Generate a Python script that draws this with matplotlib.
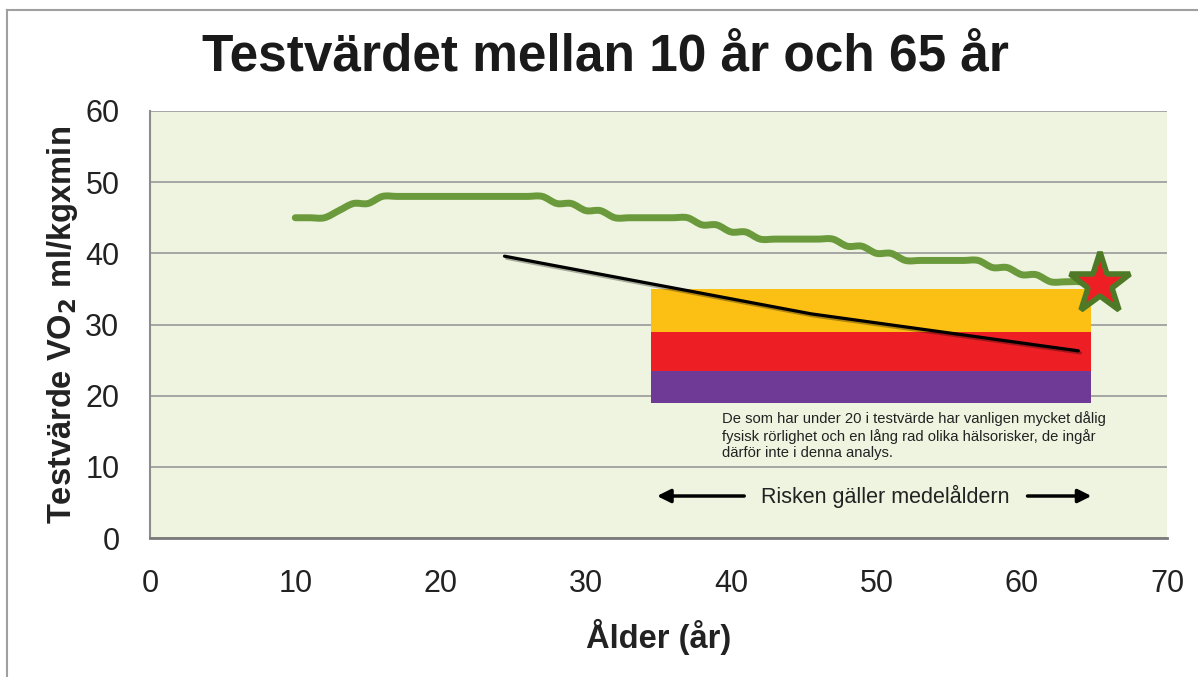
import matplotlib
matplotlib.use("Agg")
import numpy as np
import matplotlib.pyplot as plt
import matplotlib.patheffects as pe
from matplotlib.lines import Line2D
from matplotlib.path import Path
from matplotlib.patches import PathPatch

plt.rcParams['font.family'] = ['Liberation Sans', 'DejaVu Sans']

# data
ages = [10, 11, 12, 13, 14, 15, 16, 17, 18, 19, 20, 21, 22, 23, 24, 25, 26, 27,
        28, 29, 30, 31, 32, 33, 34, 35, 36, 37, 38, 39, 40, 41, 42, 43, 44, 45,
        46, 47, 48, 49, 50, 51, 52, 53, 54, 55, 56, 57, 58, 59, 60, 61, 62, 63,
        64, 65]
vo2 = [45, 45, 45, 46, 47, 47, 48, 48, 48, 48, 48, 48, 48, 48, 48, 48, 48, 48,
       47, 47, 46, 46, 45, 45, 45, 45, 45, 45, 44, 44, 43, 43, 42, 42, 42, 42,
       42, 42, 41, 41, 40, 40, 39, 39, 39, 39, 39, 39, 38, 38, 37, 37, 36, 36,
       36, 35.5]

star_age = [65.4]
star_value = [35.7]

trend_age = [24.4, 45.5, 63.9]
trend_value = [39.6, 31.5, 26.3]

# risk zones (age range and value bands)
zone_start, zone_end = 34.5, 64.8
zone_bands = [(29, 35), (23.5, 29), (19, 23.5)]
zone_colors = ['#FCBF13', '#ED1F25', '#6E3A95']

arrow_left = (40.9, 34.9)
arrow_right = (60.4, 64.8)
arrow_y = 5.9


def smooth_path(x, y):
    # catmull-rom style curve through the points, like excel's smoothed line
    p = np.column_stack([x, y]).astype(float)
    p = np.vstack([p[0], p, p[-1]])
    verts = [p[1]]
    codes = [Path.MOVETO]
    for i in range(1, len(p) - 2):
        c1 = p[i] + (p[i + 1] - p[i - 1]) / 6
        c2 = p[i + 1] - (p[i + 2] - p[i]) / 6
        verts += [c1, c2, p[i + 1]]
        codes += [Path.CURVE4] * 3
    return Path(verts, codes)


fig = plt.figure(figsize=(11.98, 6.77), dpi=100)
ax = fig.add_axes([150 / 1198, 1 - 538 / 677, 1017 / 1198, 427 / 677])
ax.set_facecolor('#EEF4DF')

# outer frame (left and top)
fig.add_artist(Line2D([7 / 1198, 7 / 1198], [0, 1 - 10 / 677], transform=fig.transFigure,
                      color='#A0A0A0', lw=1.5))
fig.add_artist(Line2D([7 / 1198, 1], [1 - 10 / 677, 1 - 10 / 677], transform=fig.transFigure,
                      color='#A0A0A0', lw=1.5))

for (lo, hi), c in zip(zone_bands, zone_colors):
    ax.fill_between([zone_start, zone_end], lo, hi, color=c, lw=0, zorder=2)

ax.add_patch(PathPatch(smooth_path(ages, vo2), fill=False, edgecolor='#6A9A3B', lw=5,
                       joinstyle='round', capstyle='round', zorder=4))
ax.plot(star_age, star_value, marker='*', markersize=46, color='#ED1F25',
        markeredgecolor='#4E7A27', markeredgewidth=4, zorder=5)

ax.plot(trend_age, trend_value, color='black', lw=2.3, solid_capstyle='round', zorder=3,
        path_effects=[pe.SimpleLineShadow(offset=(1.5, -1.5), alpha=0.3), pe.Normal()])

ax.text(39.4, 17.8,
        "De som har under 20 i testvärde har vanligen mycket dålig\n"
        "fysisk rörlighet och en lång rad olika hälsorisker, de ingår\n"
        "därför inte i denna analys.",
        fontsize=10.6, color='#222222', va='top', ha='left', linespacing=1.2, zorder=3)

ax.text(50.6, arrow_y, "Risken gäller medelåldern", fontsize=15.5, color='#222222',
        ha='center', va='center', zorder=3)
for tail, head in [arrow_left, arrow_right]:
    ax.annotate('', xy=(head, arrow_y), xytext=(tail, arrow_y),
                arrowprops=dict(arrowstyle='-|>', color='black', lw=2.5,
                                mutation_scale=20, shrinkA=0, shrinkB=0), zorder=3)

ax.set_xlim(0, 70)
ax.set_ylim(0, 60)
ax.set_xticks(range(0, 71, 10))
ax.set_yticks(range(0, 61, 10))
ax.tick_params(length=0, labelsize=22, pad=22, colors='#222222')
ax.tick_params(axis='y', pad=22)
ax.grid(axis='y', color='#A0A0A0', lw=1.3, zorder=1)
ax.set_axisbelow(True)
for s in ['right', 'top']:
    ax.spines[s].set_visible(False)
ax.spines['left'].set_color('#8C8C8C')
ax.spines['left'].set_linewidth(1.5)
ax.spines['bottom'].set_color('#7A7A7A')
ax.spines['bottom'].set_linewidth(2)

ax.set_xlabel('Ålder (år)', fontsize=23.5, fontweight='bold', color='#222222', labelpad=15)
ax.set_ylabel('Testvärde VO$_\\mathbf{2}$ ml/kgxmin', fontsize=23.5, fontweight='bold',
              color='#222222', labelpad=4)
fig.text(605 / 1198, 1 - 57 / 677, 'Testvärdet mellan 10 år och 65 år', fontsize=37,
         fontweight='bold', color='#1A1A1A', ha='center', va='center')

fig.savefig('out.png', dpi=100)
